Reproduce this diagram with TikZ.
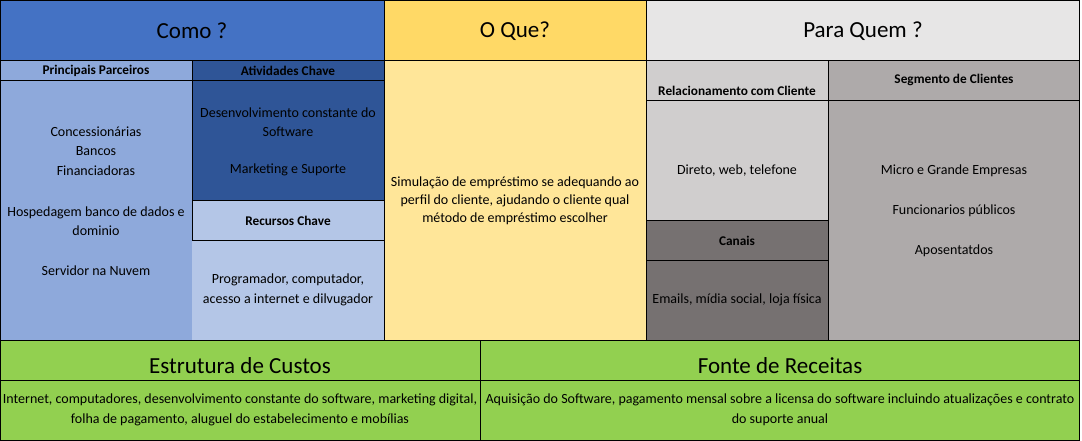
\documentclass[tikz,border=0pt]{standalone}
\usepackage{fontspec}
\setmainfont{Carlito}
\definecolor{comoC}{HTML}{4472C4}
\definecolor{oqueC}{HTML}{FFD966}
\definecolor{oqueBody}{HTML}{FFE699}
\definecolor{paraC}{HTML}{E7E6E6}
\definecolor{parcC}{HTML}{8EA9DB}
\definecolor{ativC}{HTML}{2F5597}
\definecolor{recC}{HTML}{B4C6E7}
\definecolor{relC}{HTML}{D0CECE}
\definecolor{canC}{HTML}{767171}
\definecolor{segC}{HTML}{AEAAAA}
\definecolor{greenC}{HTML}{92D050}
\newcommand{\mkcell}[7][draw=black]{%
  \node[cellbox,#1,fill=#7,minimum width=#5pt,minimum height=#6pt] (#2) at (#3,#4) {};}
\begin{document}
\begin{tikzpicture}[x=1pt,y=-1pt,
  cellbox/.style={line width=1pt,inner sep=0pt,outer sep=0pt,anchor=north west},
  bighead/.style={font=\fontsize{23}{27}\selectfont},
  midhead/.style={font=\fontsize{23}{27}\selectfont},
  smallhead/.style={font=\bfseries\fontsize{13.3}{16}\selectfont},
  txt/.style={font=\fontsize{14}{19.5}\selectfont,align=center,inner sep=0pt},
  txtq/.style={font=\fontsize{14}{18}\selectfont,align=center,inner sep=0pt}]
\useasboundingbox (0,0) rectangle (1082,440);
\fill[white] (0,0) rectangle (1082,440);
% fill-only cells first
\mkcell[draw=none]{parcB}{0}{80}{192}{260}{parcC}
\mkcell[draw=none]{recB}{192}{240}{192}{100}{recC}
% top headers
\mkcell{como}{0}{0}{384}{60}{comoC}
\mkcell{oque}{384}{0}{262}{60}{oqueC}
\mkcell{para}{646}{0}{433}{60}{paraC}
% Como section
\mkcell{parcH}{0}{60}{192}{20}{parcC}
\mkcell{ativH}{192}{60}{192}{20}{ativC}
\mkcell{ativB}{192}{80}{192}{120}{ativC}
\mkcell{recH}{192}{200}{192}{40}{recC}
\draw[line width=1pt] (parcB.north west) -- (parcB.south west) -- (recB.south east) -- (recB.north east);
\draw[line width=1pt] (parcB.north east) -- (recH.south west);
% O Que body
\mkcell{oqueB}{384}{60}{262}{280}{oqueBody}
% Para Quem section
\mkcell{relH}{646}{60}{182}{40}{relC}
\mkcell{relB}{646}{100}{182}{120}{relC}
\mkcell{canH}{646}{220}{182}{40}{canC}
\mkcell{canB}{646}{260}{182}{80}{canC}
\mkcell{segH}{828}{60}{251}{40}{segC}
\mkcell{segB}{828}{100}{251}{240}{segC}
% bottom
\mkcell{custH}{0}{340}{480}{40}{greenC}
\mkcell{recetH}{480}{340}{599}{40}{greenC}
\mkcell{custB}{0}{380}{480}{60}{greenC}
\mkcell{recetB}{480}{380}{599}{60}{greenC}
% texts
\node[bighead] (tcomo) at (192,31) {Como ?};
\node[bighead] (toque) at (515,31) {O Que?};
\node[bighead] (tpara) at (863,31) {Para Quem ?};
\node[smallhead] (tparcH) at (96,71) {Principais Parceiros};
\node[smallhead] (tativH) at (288,71) {Atividades Chave};
\node[txt] (tp1) at (96,151) {Concessionárias\\Bancos\\Financiadoras};
\node[txt] (tp2) at (96,221) {Hospedagem banco de dados e\\dominio};
\node[txt] (tp3) at (96,271) {Servidor na Nuvem};
\node[txt] (ta1) at (288,122) {Desenvolvimento constante do\\Software};
\node[txt] (ta2) at (288,170) {Marketing e Suporte};
\node[smallhead] (trecH) at (288,221) {Recursos Chave};
\node[txt] (trecB) at (288,290) {Programador, computador,\\acesso a internet e dilvugador};
\node[txtq] (toqueB) at (515,201) {Simulação de empréstimo se adequando ao\\perfil do cliente, ajudando o cliente qual\\método de empréstimo escolher};
\node[smallhead] (trelH) at (737,91) {Relacionamento com Cliente};
\node[txt] (trelB) at (737,171) {Direto, web, telefone};
\node[smallhead] (tcanH) at (737,241) {Canais};
\node[txt] (tcanB) at (737,300) {Emails, mídia social, loja física};
\node[smallhead] (tsegH) at (954,80) {Segmento de Clientes};
\node[txt] (ts1) at (954,171) {Micro e Grande Empresas};
\node[txt] (ts2) at (954,211) {Funcionarios públicos};
\node[txt] (ts3) at (954,251) {Aposentatdos};
\node[midhead] (tcustH) at (240,366) {Estrutura de Custos};
\node[midhead] (trecetH) at (780,366) {Fonte de Receitas};
\node[txt] (tcustB) at (240,410) {Internet, computadores, desenvolvimento constante do software, marketing digital,\\folha de pagamento, aluguel do estabelecimento e mobílias};
\node[txt] (trecetB) at (780,410) {Aquisição do Software, pagamento mensal sobre a licensa do software incluindo atualizações e contrato\\do suporte anual};
\end{tikzpicture}
\end{document}
